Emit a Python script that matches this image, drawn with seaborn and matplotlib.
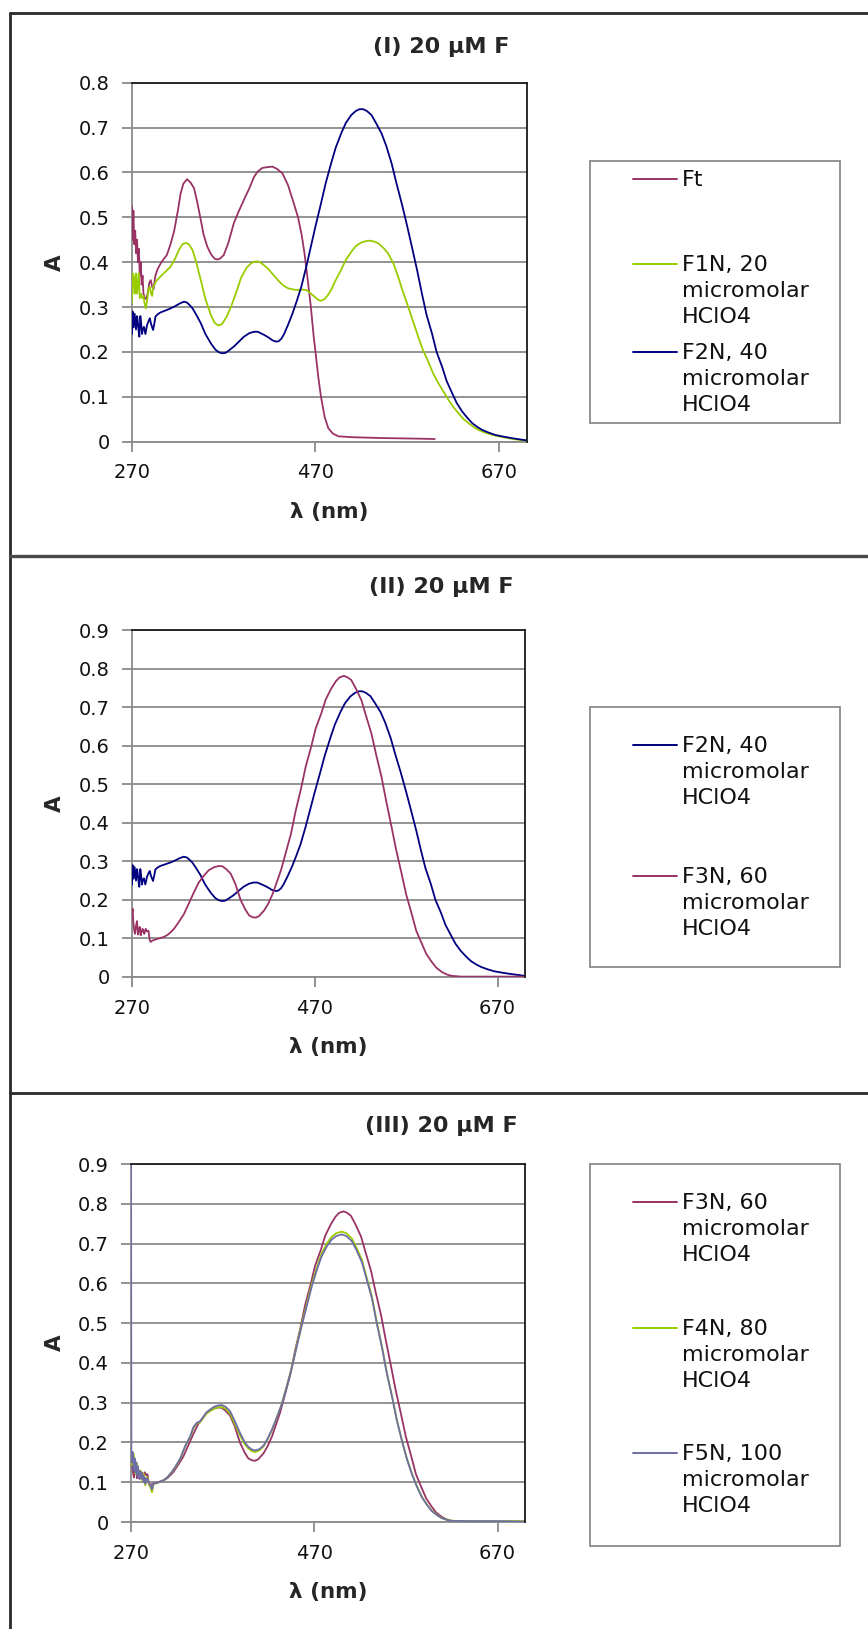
import matplotlib
matplotlib.use("Agg")
import matplotlib.pyplot as plt
import seaborn as sns
from matplotlib.lines import Line2D
from matplotlib.patches import Rectangle

# ---------------- data ----------------
panel_titles = ["(I) 20 µM F", "(II) 20 µM F", "(III) 20 µM F"]
x_label = "λ (nm)"
y_label = "A"
x_ticks = [270, 470, 670]
x_tick_labels = ["270", "470", "670"]
y_ticks_I = [0, 0.1, 0.2, 0.3, 0.4, 0.5, 0.6, 0.7, 0.8]
y_tick_labels_I = ["0", "0.1", "0.2", "0.3", "0.4", "0.5", "0.6", "0.7", "0.8"]
y_ticks_II = [0, 0.1, 0.2, 0.3, 0.4, 0.5, 0.6, 0.7, 0.8, 0.9]
y_tick_labels_II = ["0", "0.1", "0.2", "0.3", "0.4", "0.5", "0.6", "0.7", "0.8", "0.9"]

label_ft = "Ft"
label_f1n = "F1N, 20\nmicromolar\nHClO4"
label_f2n = "F2N, 40\nmicromolar\nHClO4"
label_f3n = "F3N, 60\nmicromolar\nHClO4"
label_f4n = "F4N, 80\nmicromolar\nHClO4"
label_f5n = "F5N, 100\nmicromolar\nHClO4"

wl_ft = [270.0, 270.7, 271.5, 272.5, 273.5, 274.5, 275.5, 276.5, 277.5, 278.5, 279.5, 280.5,
         281.5, 282.5, 284.0, 285.5, 287.0, 289.0, 290.5, 292.0, 293.5, 295.5, 298.0, 302,
         308, 312, 316, 320, 323, 326, 330, 334, 337.6, 341, 345, 348, 352, 356, 360, 363,
         366, 370, 375, 381, 386, 392, 398, 403, 407, 412, 418, 423, 428, 434, 440, 445,
         451, 455, 458, 461, 465, 468, 470, 473, 476, 480, 484, 489, 495, 510, 527, 545,
         564, 582, 600]
a_ft = [0.524, 0.45, 0.515, 0.44, 0.47, 0.42, 0.45, 0.40, 0.43, 0.37, 0.40, 0.35,
        0.37, 0.33, 0.32, 0.318, 0.33, 0.355, 0.36, 0.345, 0.34, 0.37, 0.385, 0.40,
        0.416, 0.44, 0.47, 0.515, 0.553, 0.575, 0.585, 0.577, 0.565, 0.535, 0.494, 0.462,
        0.435, 0.418, 0.408, 0.406, 0.408, 0.416, 0.443, 0.487, 0.512, 0.539, 0.565, 0.59,
        0.602, 0.61, 0.612, 0.613, 0.608, 0.598, 0.572, 0.54, 0.50, 0.46, 0.42, 0.37,
        0.30, 0.235, 0.20, 0.145, 0.10, 0.055, 0.03, 0.018, 0.012, 0.010, 0.009, 0.008,
        0.0074, 0.0068, 0.006]

wl_f1n = [270.0, 270.7, 271.8, 272.9, 273.7, 274.4, 275.5, 276.5, 277.3, 278.5, 279.9, 281.0,
          282.5, 283.5, 285.0, 286.5, 288.0, 289.4, 290.8, 292.0, 293.0, 294.5, 296.0, 301,
          306, 312, 317, 321, 325, 328.5, 332, 336, 340, 345, 350, 356, 360, 364, 368, 373,
          378, 384, 389, 395, 400, 405, 409, 414, 418, 424, 429, 435, 440, 446, 451, 456,
          460, 465, 469, 473, 476, 480, 484, 487, 492, 498, 503, 509, 514, 520, 525, 529,
          534, 538.5, 544, 549, 555, 560, 565, 571, 576, 582, 587, 593, 598, 604, 610, 615,
          620, 626, 631, 637, 643, 648, 655, 663, 670, 677, 685, 693, 700]
a_f1n = [0.31, 0.375, 0.37, 0.33, 0.36, 0.375, 0.33, 0.35, 0.375, 0.32, 0.33, 0.32,
         0.325, 0.31, 0.297, 0.315, 0.34, 0.345, 0.33, 0.325, 0.345, 0.35, 0.357, 0.368,
         0.378, 0.39, 0.408, 0.427, 0.44, 0.443, 0.44, 0.427, 0.40, 0.36, 0.318, 0.282, 0.265,
         0.259, 0.262, 0.278, 0.301, 0.335, 0.366, 0.388, 0.398, 0.402, 0.401, 0.393, 0.386,
         0.372, 0.36, 0.348, 0.342, 0.339, 0.338, 0.339, 0.338, 0.33, 0.323, 0.316, 0.314,
         0.318, 0.328, 0.338, 0.36, 0.383, 0.405, 0.423, 0.436, 0.444, 0.447, 0.448, 0.446,
         0.442, 0.432, 0.42, 0.397, 0.368, 0.336, 0.301, 0.27, 0.234, 0.205, 0.178, 0.153,
         0.13, 0.11, 0.093, 0.078, 0.063, 0.051, 0.041, 0.032, 0.026, 0.02, 0.015, 0.012,
         0.009, 0.006, 0.004, 0.002]

wl_f2n = [270.0, 270.7, 271.8, 272.9, 274.4, 275.5, 276.2, 277.3, 278.0, 279.1, 279.9, 281.0,
          281.7, 283.0, 284.6, 286.4, 288.3, 289.4, 290.8, 293.0, 294.5, 295.6, 298, 301,
          306, 312, 317, 322, 326.6, 330, 333, 336, 340, 345, 350, 356, 361, 365, 368.6, 372,
          376, 381, 386, 392, 398, 403, 407, 411, 414, 419, 423, 427, 430, 433, 436, 440,
          445, 450, 454.5, 460, 465, 470, 476, 481, 487, 492, 498, 503, 509, 514, 518, 522,
          526, 531, 536, 542, 547, 553, 558, 564, 570, 575, 581, 586, 591, 597, 602, 608,
          613, 619, 624, 630, 636, 641, 647, 652, 659, 666, 673, 681, 690, 700]
a_f2n = [0.24, 0.29, 0.255, 0.285, 0.25, 0.28, 0.27, 0.245, 0.234, 0.28, 0.265, 0.24,
         0.25, 0.256, 0.24, 0.26, 0.27, 0.275, 0.262, 0.249, 0.265, 0.279, 0.284, 0.288,
         0.292, 0.297, 0.302, 0.308, 0.312, 0.31, 0.304, 0.297, 0.283, 0.264, 0.24, 0.219,
         0.205, 0.199, 0.197, 0.198, 0.204, 0.212, 0.222, 0.234, 0.242, 0.245, 0.245, 0.241,
         0.238, 0.232, 0.226, 0.223, 0.224, 0.23, 0.241, 0.26, 0.286, 0.316, 0.345, 0.39,
         0.435, 0.48, 0.531, 0.575, 0.62, 0.655, 0.687, 0.71, 0.728, 0.737, 0.741, 0.741,
         0.737, 0.728, 0.71, 0.687, 0.66, 0.62, 0.578, 0.531, 0.48, 0.435, 0.38, 0.33,
         0.283, 0.241, 0.2, 0.167, 0.135, 0.108, 0.086, 0.067, 0.052, 0.041, 0.032, 0.026,
         0.02, 0.015, 0.012, 0.009, 0.006, 0.003]

wl_f3n = [270.0, 270.7, 271.5, 272.5, 273.3, 274.5, 275.5, 276.5, 277.5, 278.5, 279.5, 280.5,
          281.5, 282.5, 283.5, 285, 286.5, 288, 289.5, 290.5, 292, 294, 298, 305, 310, 316,
          321, 327, 332, 338, 343, 349, 354, 360, 365, 369, 373, 378, 383, 389, 394, 398,
          402, 405.5, 409, 414.7, 419, 424, 428, 433, 438, 444, 449, 455, 460, 466, 471, 477,
          482, 488, 493, 497, 502, 506, 510, 515, 521, 526, 532, 537, 543, 548, 554, 559,
          565, 570, 576, 581, 587, 592, 598, 603, 609, 615, 620, 630, 650, 680, 700]
a_f3n = [0.165, 0.177, 0.14, 0.12, 0.112, 0.135, 0.145, 0.11, 0.122, 0.13, 0.108, 0.116,
         0.125, 0.12, 0.112, 0.125, 0.118, 0.12, 0.095, 0.091, 0.094, 0.096, 0.099, 0.104,
         0.111, 0.125, 0.142, 0.164, 0.19, 0.221, 0.245, 0.264, 0.277, 0.285, 0.288, 0.287,
         0.28, 0.268, 0.242, 0.199, 0.175, 0.16, 0.155, 0.154, 0.158, 0.173, 0.19, 0.216,
         0.243, 0.277, 0.32, 0.372, 0.43, 0.489, 0.545, 0.597, 0.645, 0.683, 0.72, 0.748,
         0.767, 0.777, 0.781, 0.777, 0.77, 0.748, 0.718, 0.678, 0.631, 0.578, 0.519, 0.458,
         0.389, 0.33, 0.268, 0.214, 0.164, 0.12, 0.087, 0.06, 0.039, 0.024, 0.013, 0.006,
         0.003, 0.001, 0.001, 0.001, 0.001]

wl_f4n = [270.0, 271.1, 272.9, 274.7, 276.5, 278.4, 280.2, 282.0, 283.8, 285.6, 287.5, 289.3,
          291.1, 292.9, 294.7, 298, 305.6, 310, 314.7, 319, 323.8, 329, 334.7, 338, 342, 345,
          349, 352, 356.5, 361, 365, 369, 373, 378, 383, 389, 394, 398, 402, 405.6, 410,
          414.7, 419, 423.8, 429, 434.7, 440, 445.6, 451, 456.5, 462, 467.5, 473, 478, 484,
          489, 494, 500, 505, 511, 516, 522, 527, 533, 538, 544, 549, 555, 560, 565.6, 571,
          576.5, 582, 587.5, 593, 598, 604, 609, 615, 620, 640, 670, 700]
a_f4n = [0.172, 0.143, 0.172, 0.122, 0.147, 0.113, 0.13, 0.105, 0.122, 0.092, 0.113, 0.1,
         0.088, 0.075, 0.096, 0.097, 0.105, 0.113, 0.126, 0.14, 0.159, 0.19, 0.214, 0.235,
         0.249, 0.25, 0.262, 0.272, 0.279, 0.285, 0.288, 0.289, 0.285, 0.273, 0.248, 0.218,
         0.196, 0.185, 0.178, 0.176, 0.18, 0.19, 0.208, 0.231, 0.262, 0.298, 0.342, 0.39,
         0.445, 0.499, 0.55, 0.6, 0.641, 0.675, 0.701, 0.717, 0.726, 0.73, 0.726, 0.713,
         0.69, 0.659, 0.617, 0.566, 0.505, 0.44, 0.377, 0.315, 0.258, 0.206, 0.16, 0.122,
         0.09, 0.063, 0.044, 0.029, 0.018, 0.01, 0.006, 0.003, 0.002, 0.002, 0.002]

wl_f5n = [270.0, 270.4, 271.1, 272.0, 272.9, 274.0, 274.7, 275.8, 276.5, 277.5, 278.4, 279.5,
          280.2, 281.3, 282.0, 283.0, 283.8, 285.0, 285.6, 287.5, 289.3, 291.1, 292.9, 294.7,
          298, 305.6, 310, 314.7, 319, 323.8, 329, 334.7, 338, 342, 345, 349, 352, 356.5,
          361, 365, 369, 373, 378, 383, 389, 394, 398, 402, 405.6, 410, 414.7, 419, 423.8,
          429, 434.7, 440, 445.6, 451, 456.5, 462, 467.5, 473, 478, 484, 489, 494, 500, 505,
          511, 516, 522, 527, 533, 538, 544, 549, 555, 560, 565.6, 571, 576.5, 582, 587.5,
          593, 598, 604, 609, 615, 620, 640, 670, 700]
a_f5n = [1.00, 0.165, 0.15, 0.175, 0.13, 0.16, 0.125, 0.15, 0.118, 0.14, 0.11, 0.128,
         0.11, 0.125, 0.108, 0.118, 0.1, 0.112, 0.096, 0.11, 0.1, 0.094, 0.082, 0.097,
         0.098, 0.105, 0.113, 0.126, 0.141, 0.16, 0.19, 0.216, 0.238, 0.25, 0.252, 0.264,
         0.275, 0.283, 0.29, 0.293, 0.294, 0.29, 0.279, 0.255, 0.224, 0.201, 0.189, 0.182,
         0.18, 0.183, 0.192, 0.209, 0.232, 0.262, 0.297, 0.34, 0.388, 0.442, 0.495, 0.545,
         0.594, 0.635, 0.668, 0.694, 0.71, 0.719, 0.723, 0.719, 0.706, 0.684, 0.653, 0.612,
         0.562, 0.502, 0.438, 0.376, 0.314, 0.257, 0.205, 0.159, 0.121, 0.089, 0.062, 0.043,
         0.028, 0.017, 0.01, 0.005, 0.003, 0.002, 0.002, 0.001]

# ---------------- style ----------------
C_FT = "#993366"
C_F1N = "#99CC00"
C_F2N = "#000080"
C_F3N = "#993366"
C_F4N = "#99CC00"
C_F5N = "#6E6EA6"
AX_GRAY = "#8a8a8a"

sns.set_style("white")
plt.rcParams['font.family'] = ['DejaVu Sans']

W, H = 868, 1629
fig = plt.figure(figsize=(W / 100, H / 100), dpi=100)


def fx(px):
    return px / W


def fy(py):
    return 1 - py / H


def make_axes(left, right, top, bottom):
    return fig.add_axes([fx(left), fy(bottom), (right - left) / W, (bottom - top) / H])


def style_axes(ax, box, yticks, ylabels):
    left, right, top, bottom = box
    ax.set_xlim(270, 700)
    ax.set_ylim(0, yticks[-1])
    ax.set_xticks(x_ticks)
    ax.set_xticklabels(x_tick_labels)
    ax.set_yticks(yticks)
    ax.set_yticklabels(ylabels)
    ax.yaxis.grid(True, color=AX_GRAY, linewidth=1.3)
    ax.xaxis.grid(False)
    ax.set_axisbelow(True)
    for s in ["left", "bottom"]:
        ax.spines[s].set_color(AX_GRAY)
        ax.spines[s].set_linewidth(1.3)
        ax.spines[s].set_zorder(1.5)
    for s in ["top", "right"]:
        ax.spines[s].set_color("#1a1a1a")
        ax.spines[s].set_linewidth(1.3)
    ax.tick_params(axis="both", which="major", direction="out", length=7, width=1.3,
                   color=AX_GRAY, labelsize=14, labelcolor="#111111", bottom=True, left=True)
    ax.tick_params(axis="y", pad=9)
    ax.tick_params(axis="x", pad=8.5)
    ax.set_xlabel(x_label, fontsize=15.5, fontweight="bold")
    ax.set_ylabel(y_label, fontsize=15.5, fontweight="bold")
    w = right - left
    h = bottom - top
    ax.xaxis.set_label_coords(0.5, -(60.0 / h))
    ax.yaxis.set_label_coords(-(left - 65) / w, 0.5)


def draw_legend(box, entries):
    l, r, t, b = box
    fig.add_artist(Rectangle((fx(l), fy(b)), (r - l) / W, (b - t) / H, transform=fig.transFigure,
                             fill=False, edgecolor=AX_GRAY, linewidth=1.3))
    for label, color, yc in entries:
        fig.add_artist(Line2D([fx(633), fx(677)], [fy(yc), fy(yc)], transform=fig.transFigure,
                              color=color, linewidth=1.4))
        fig.text(fx(682), fy(yc - 9), label, ha="left", va="top", fontsize=16,
                 linespacing=1.38, color="#111111")


# frame lines around the panels
frame_kw = dict(transform=fig.transFigure, color="#2a2a2a", linewidth=2)
fig.add_artist(Line2D([fx(10), 1], [fy(13), fy(13)], **frame_kw))
fig.add_artist(Line2D([fx(10), fx(10)], [fy(13), 0], **frame_kw))
fig.add_artist(Line2D([fx(10), 1], [fy(556), fy(556)], **dict(frame_kw, color="#4a4a4a", linewidth=2.4)))
fig.add_artist(Line2D([fx(10), 1], [fy(1093), fy(1093)], **frame_kw))

line_kw = dict(linewidth=1.3, estimator=None, errorbar=None)

LEG_L, LEG_R = 590, 840

# ---- Panel I ----
box1 = (132, 526.5, 82.7, 441.7)
ax1 = make_axes(*box1)
sns.lineplot(x=wl_ft, y=a_ft, ax=ax1, color=C_FT, **line_kw)
sns.lineplot(x=wl_f1n, y=a_f1n, ax=ax1, color=C_F1N, **line_kw)
sns.lineplot(x=wl_f2n, y=a_f2n, ax=ax1, color=C_F2N, **line_kw)
style_axes(ax1, box1, y_ticks_I, y_tick_labels_I)
fig.text(fx(441), fy(47), panel_titles[0], ha="center", va="center", fontsize=16, fontweight="bold")
draw_legend((LEG_L, LEG_R, 161, 423), [(label_ft, C_FT, 179), (label_f1n, C_F1N, 264), (label_f2n, C_F2N, 352)])

# ---- Panel II ----
box2 = (132, 525, 630, 977)
ax2 = make_axes(*box2)
sns.lineplot(x=wl_f2n, y=a_f2n, ax=ax2, color=C_F2N, **line_kw)
sns.lineplot(x=wl_f3n, y=a_f3n, ax=ax2, color=C_F3N, **line_kw)
style_axes(ax2, box2, y_ticks_II, y_tick_labels_II)
fig.text(fx(441), fy(587), panel_titles[1], ha="center", va="center", fontsize=16, fontweight="bold")
draw_legend((LEG_L, LEG_R, 707, 967), [(label_f2n, C_F2N, 745), (label_f3n, C_F3N, 876)])

# ---- Panel III ----
box3 = (131, 525, 1164, 1522)
ax3 = make_axes(*box3)
sns.lineplot(x=wl_f3n, y=a_f3n, ax=ax3, color=C_F3N, **line_kw)
sns.lineplot(x=wl_f4n, y=a_f4n, ax=ax3, color=C_F4N, **line_kw)
sns.lineplot(x=wl_f5n, y=a_f5n, ax=ax3, color=C_F5N, **line_kw)
style_axes(ax3, box3, y_ticks_II, y_tick_labels_II)
fig.text(fx(441), fy(1126), panel_titles[2], ha="center", va="center", fontsize=16, fontweight="bold")
draw_legend((LEG_L, LEG_R, 1164, 1546), [(label_f3n, C_F3N, 1202), (label_f4n, C_F4N, 1328), (label_f5n, C_F5N, 1453)])

fig.savefig("out.png", dpi=100, facecolor="white")
